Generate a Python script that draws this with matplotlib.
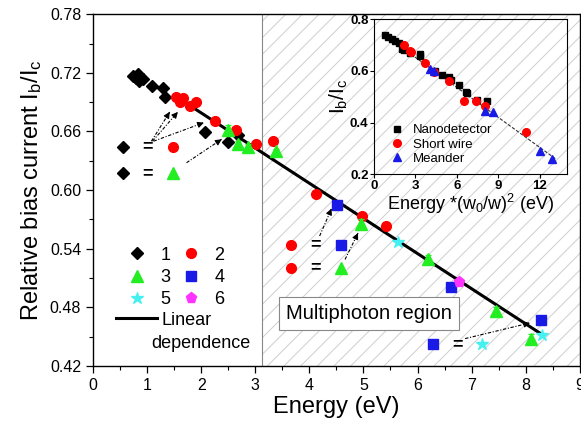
import matplotlib
matplotlib.use("Agg")
import matplotlib.pyplot as plt
from matplotlib.ticker import MultipleLocator, FormatStrFormatter

plt.rcParams['font.family'] = ['Liberation Sans', 'DejaVu Sans']
plt.rcParams['mathtext.default'] = 'regular'
plt.rcParams['hatch.linewidth'] = 0.7

# ---------------- main data ----------------
s1_x = [0.74, 0.80, 0.83, 0.86, 0.92, 1.10, 1.29, 1.33, 2.07, 2.50, 2.68]
s1_y = [0.717, 0.715, 0.719, 0.712, 0.714, 0.707, 0.704, 0.695, 0.659, 0.649, 0.656]
s2_x = [1.54, 1.60, 1.66, 1.79, 1.91, 2.25, 2.65, 3.02, 3.32, 4.13, 4.97, 5.42]
s2_y = [0.695, 0.690, 0.694, 0.686, 0.690, 0.671, 0.661, 0.647, 0.650, 0.596, 0.573, 0.563]
s3_x = [2.50, 2.68, 2.87, 3.39, 4.95, 6.19, 7.45, 8.10]
s3_y = [0.661, 0.647, 0.644, 0.640, 0.565, 0.529, 0.476, 0.448]
s3_err = [0.006, 0.003, 0.003, 0.002, 0.005, 0.005, 0.004, 0.005]
s4_x = [4.51, 6.61, 8.28]
s4_y = [0.585, 0.501, 0.467]
s5_x = [5.63, 8.30]
s5_y = [0.547, 0.452]
s6_x = [6.77]
s6_y = [0.506]
lin_x = [1.75, 8.25]
lin_y = [0.688, 0.454]
series_labels = ['1', '2', '3', '4', '5', '6']

# ---------------- inset data ----------------
nano_x = [0.80, 1.04, 1.29, 1.53, 1.77, 2.02, 2.14, 2.62, 3.30, 3.35, 4.44, 4.93,
          5.41, 5.58, 6.14, 6.63, 6.75, 7.43, 8.21]
nano_y = [0.738, 0.732, 0.723, 0.715, 0.710, 0.687, 0.680, 0.671, 0.664, 0.658, 0.599, 0.586,
          0.577, 0.564, 0.545, 0.519, 0.513, 0.487, 0.483]
short_x = [2.14, 2.62, 2.70, 3.71, 4.32, 5.41, 6.50, 7.36, 8.08, 11.0]
short_y = [0.702, 0.676, 0.672, 0.629, 0.594, 0.560, 0.483, 0.483, 0.465, 0.362]
mea_x = [4.08, 4.32, 8.01, 8.64, 12.04, 12.94]
mea_y = [0.607, 0.599, 0.444, 0.441, 0.289, 0.258]
ifit_x = [0.6, 13.2]
ifit_y = [0.745, 0.258]
inset_labels = ['Nanodetector', 'Short wire', 'Meander']

GREEN = '#22ee22'
BLUE = '#1a1ae6'
CYAN = '#44f0f0'
MAG = '#ff33ff'

fig = plt.figure(figsize=(5.81, 4.30), dpi=100)
ax = fig.add_axes([0.160, 0.149, 0.838, 0.818])
ax.set_xlim(0, 9)
ax.set_ylim(0.42, 0.78)

# multiphoton hatched region
ax.axvspan(3.12, 9, facecolor='none', edgecolor='#cfcfcf', hatch='//', lw=0, zorder=0)
ax.axvline(3.12, color='#888888', lw=0.8, zorder=1)

ms = 7
h_line, = ax.plot(lin_x, lin_y, color='black', lw=2.2, zorder=2)
h1, = ax.plot(s1_x, s1_y, 'D', color='black', ms=6.5, ls='none', zorder=3)
h2, = ax.plot(s2_x, s2_y, 'o', color='red', ms=ms, ls='none', zorder=4)
ax.errorbar(s3_x, s3_y, yerr=s3_err, fmt='none', ecolor=GREEN, elinewidth=0.9,
            capsize=2.5, capthick=0.9, zorder=5)
h3, = ax.plot(s3_x, s3_y, '^', color=GREEN, ms=ms + 1, ls='none', zorder=5)
h4, = ax.plot(s4_x, s4_y, 's', color=BLUE, ms=ms - 0.5, ls='none', zorder=5)
h5, = ax.plot(s5_x, s5_y, '*', color=CYAN, ms=ms + 2, ls='none', zorder=5)
h6, = ax.plot(s6_x, s6_y, 'p', color=MAG, ms=ms + 1, ls='none', zorder=5)

# equivalence annotations
def eq_row(x0, y, m1, c1, m2, c2, s1=7, s2=7):
    ax.plot([x0], [y], m1, color=c1, ms=s1, zorder=6)
    ax.text(x0 + 0.45, y, '=', ha='center', va='center', fontsize=13, fontweight='bold', zorder=6)
    ax.plot([x0 + 0.92], [y], m2, color=c2, ms=s2, zorder=6)

def arrow(x0, y0, x1, y1):
    ax.plot([x0, x1], [y0, y1], color='black', lw=0.8, ls=(0, (3, 1.5, 1, 1.5)), zorder=6)
    dx, dy = x1 - x0, y1 - y0
    ax.annotate('', xy=(x1, y1), xytext=(x1 - dx * 0.08, y1 - dy * 0.08),
                arrowprops=dict(arrowstyle='-|>', color='black', lw=0.8,
                                mutation_scale=9, shrinkA=0, shrinkB=0), zorder=6)

eq_row(0.56, 0.644, 'D', 'black', 'o', 'red', 6.5, 7)
eq_row(0.56, 0.617, 'D', 'black', '^', GREEN, 6.5, 8)
arrow(1.08, 0.650, 1.42, 0.680)
arrow(1.10, 0.650, 1.57, 0.680)
arrow(1.12, 0.650, 2.05, 0.669)
arrow(1.73, 0.628, 2.38, 0.652)

eq_row(3.67, 0.544, 'o', 'red', 's', BLUE, 7, 6.5)
eq_row(3.67, 0.520, 'o', 'red', '^', GREEN, 7, 8)
arrow(4.19, 0.553, 4.41, 0.581)
arrow(4.66, 0.529, 4.90, 0.556)

eq_row(6.28, 0.442, 's', BLUE, '*', CYAN, 6.5, 9)
arrow(6.88, 0.448, 8.08, 0.464)

ax.text(5.10, 0.4735, 'Multiphoton region', ha='center', va='center', fontsize=14.5,
        bbox=dict(boxstyle='square,pad=0.35', fc='white', ec='#888888', lw=0.8), zorder=7)

# legends
handles = [h1, h2, h3, h4, h5, h6]
order = [0, 2, 4, 1, 3, 5]
legA = ax.legend([handles[i] for i in order], [series_labels[i] for i in order],
                 ncol=2, loc='upper left', bbox_to_anchor=(0.035, 0.375), frameon=False,
                 fontsize=13, handlelength=1.6, handletextpad=0.5, columnspacing=0.33,
                 labelspacing=0.29, borderpad=0.2, numpoints=1)
ax.add_artist(legA)
ax.legend([h_line], ['Linear'], loc='upper left', bbox_to_anchor=(0.0205, 0.190),
          frameon=False, fontsize=13, handlelength=2.3, handletextpad=0.22, borderpad=0.2)
ax.text(1.086, 0.443, 'dependence', ha='left', va='center', fontsize=13)

ax.set_xlabel('Energy (eV)', fontsize=17, labelpad=2)
ax.set_ylabel('Relative bias current I$_b$/I$_c$', fontsize=17, labelpad=4)
ax.xaxis.set_major_locator(MultipleLocator(1))
ax.xaxis.set_minor_locator(MultipleLocator(0.5))
ax.yaxis.set_major_locator(MultipleLocator(0.06))
ax.yaxis.set_minor_locator(MultipleLocator(0.03))
ax.yaxis.set_major_formatter(FormatStrFormatter('%.2f'))
ax.tick_params(which='major', direction='out', length=5, labelsize=11.5, width=0.9)
ax.tick_params(which='minor', direction='out', length=3, width=0.8)
ax.tick_params(top=False, right=False)
for sp in ax.spines.values():
    sp.set_linewidth(1.0)

# inset
ins = fig.add_axes([0.644, 0.595, 0.332, 0.360])
ins.set_facecolor('none')
ins.set_xlim(0, 14)
ins.set_ylim(0.2, 0.8)
ins.plot(ifit_x, ifit_y, color='#333333', lw=0.8, ls=(0, (3, 1.5)), zorder=2)
i1, = ins.plot(nano_x, nano_y, 's', color='black', ms=5, ls='none', zorder=3)
i2, = ins.plot(short_x, short_y, 'o', color='red', ms=5.5, ls='none', zorder=4)
i3, = ins.plot(mea_x, mea_y, '^', color=BLUE, ms=6, ls='none', zorder=5)
ins.legend([i1, i2, i3], inset_labels, loc='lower left',
           bbox_to_anchor=(0.03, 0.0), frameon=False, fontsize=9.5, handlelength=1.2,
           handletextpad=0.6, labelspacing=0.15, borderpad=0.2)
ins.set_xticks([0, 3, 6, 9, 12])
ins.set_yticks([0.2, 0.4, 0.6, 0.8])
ins.yaxis.set_major_formatter(FormatStrFormatter('%.1f'))
ins.tick_params(direction='out', length=3, labelsize=9.5, pad=1.0)
for lab in ins.get_xticklabels() + ins.get_yticklabels():
    lab.set_fontweight('bold')
ins.set_xlabel('Energy *(w$_0$/w)$^2$ (eV)', fontsize=13, labelpad=0.5)
ins.set_ylabel('I$_b$/I$_c$', fontsize=15, labelpad=0)

fig.savefig('out.png', dpi=100)
